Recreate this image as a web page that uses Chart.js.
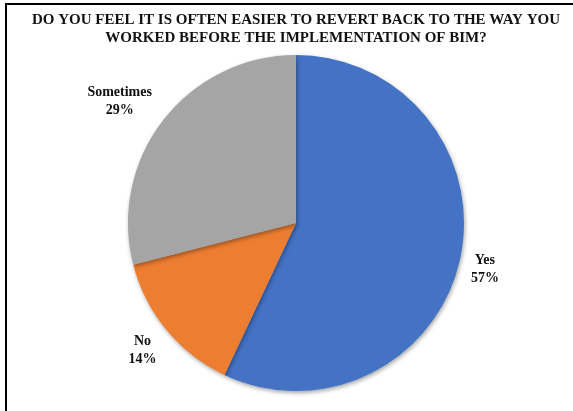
<!DOCTYPE html>
<html>
<head>
<meta charset="utf-8">
<script src="https://cdn.jsdelivr.net/npm/chart.js@4.4.0/dist/chart.umd.min.js"></script>
<style>
  body { margin: 0; background: #fff; }
  #wrap { position: relative; width: 573px; height: 411px; }
  #frame { position: absolute; left: 5px; top: 3px; right: 0; bottom: 0; border-top: 2px solid #000; border-left: 2px solid #000; pointer-events: none; }
  canvas { position: absolute; left: 0; top: 0; }
</style>
</head>
<body>
<div id="wrap">
  <canvas id="pieChart" width="573" height="411"></canvas>
  <div id="frame"></div>
</div>
<script>
const titleLines = ['DO YOU FEEL IT IS OFTEN EASIER TO REVERT BACK TO THE WAY YOU', 'WORKED BEFORE THE IMPLEMENTATION OF BIM?'];
const categories = ['Yes', 'No', 'Sometimes'];
const percents = [57, 14, 29];
const colors = ['#4472C4', '#ED7D31', '#A5A5A5'];

// label nudges so they sit where the original put them
const labelNudge = [[2, 5], [-6, 5], [-25, -4]];

const pieLabels = {
  id: 'pieLabels',
  beforeDatasetsDraw(chart) {
    const ctx = chart.ctx;
    ctx.save();
    ctx.shadowColor = 'rgba(0,0,0,0.35)';
    ctx.shadowBlur = 4;
    ctx.shadowOffsetX = 1;
    ctx.shadowOffsetY = 2;
  },
  afterDatasetsDraw(chart) {
    const ctx = chart.ctx;
    ctx.restore();
    ctx.save();
    ctx.fillStyle = '#111';
    ctx.font = 'bold 14px "Liberation Serif", "Times New Roman", serif';
    ctx.textAlign = 'center';
    ctx.textBaseline = 'middle';
    chart.getDatasetMeta(0).data.forEach((arc, i) => {
      const mid = (arc.startAngle + arc.endAngle) / 2;
      const r = arc.outerRadius * 1.14;
      const x = arc.x + Math.cos(mid) * r + labelNudge[i][0];
      const y = arc.y + Math.sin(mid) * r + labelNudge[i][1];
      ctx.fillText(categories[i], x, y - 9);
      ctx.fillText(percents[i] + '%', x, y + 9);
    });
    ctx.restore();
  }
};

new Chart(document.getElementById('pieChart'), {
  type: 'pie',
  data: {
    labels: categories,
    datasets: [{
      data: percents,
      backgroundColor: colors,
      borderWidth: 0
    }]
  },
  options: {
    responsive: false,
    animation: false,
    layout: { padding: { left: 19, right: 0, top: 0, bottom: 20 } },
    plugins: {
      legend: { display: false },
      tooltip: { enabled: false },
      title: {
        display: true,
        text: titleLines,
        color: '#111',
        font: { family: '"Liberation Serif", "Times New Roman", serif', size: 15, weight: 'bold', lineHeight: 1.2 },
        padding: { top: 11, bottom: 8 }
      }
    }
  },
  plugins: [pieLabels]
});
</script>
</body>
</html>
